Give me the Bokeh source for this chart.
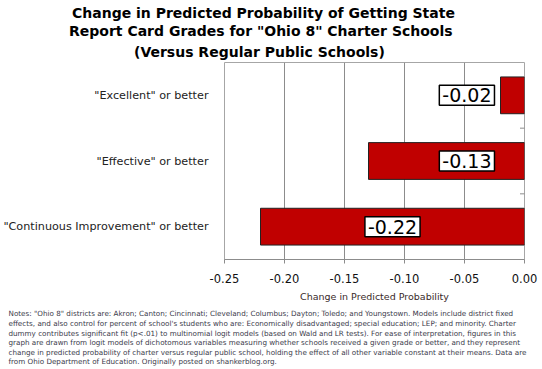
from bokeh.plotting import figure
from bokeh.models import Label, FixedTicker, Title
from bokeh.embed import file_html
from bokeh.resources import INLINE

# ---- data ----
categories = ['"Excellent" or better', '"Effective" or better', '"Continuous Improvement" or better']
values = [-0.02, -0.13, -0.22]
value_labels = ["-0.02", "-0.13", "-0.22"]
x_ticks = [-0.25, -0.20, -0.15, -0.10, -0.05, 0.00]
x_tick_labels = ["-0.25", "-0.20", "-0.15", "-0.10", "-0.05", "0.00"]
title_lines = [
    "Change in Predicted Probability of Getting State",
    'Report Card Grades for "Ohio 8" Charter Schools',
    "(Versus Regular Public Schools)",
]
note_lines = [
    'Notes: "Ohio 8" districts are: Akron; Canton; Cincinnati; Cleveland; Columbus; Dayton; Toledo; and Youngstown. Models include district fixed',
    "effects, and also control for percent of school's students who are: Economically disadvantaged; special education; LEP; and minority. Charter",
    "dummy contributes significant fit (p<.01) to multinomial logit models (based on Wald and LR tests). For ease of interpretation, figures in this",
    "graph are drawn from logit models of dichotomous variables measuring whether schools received a given grade or better, and they represent",
    "change in predicted probability of charter versus regular public school, holding the effect of all other variable constant at their means.  Data are",
    "from Ohio Department of Education. Originally posted on shankerblog.org.",
]
x_axis_title = "Change in Predicted Probability"

# layout constants
label_anchor = [-0.048, -0.048, -0.11]      # x-anchor of each value box
title_widths = [373, 379, 249]              # approx rendered width of each title line (px)
TITLE_CENTRE = 257                          # px from canvas left
NOTES_LEFT = 7

FONT = "DejaVu Sans"
n = len(categories)
ypos = [n - 1 - i for i in range(n)]  # top to bottom

W, H = 542, 369
LEFT, RIGHT, TOP, BOTTOM = 223, 18, 62, 106
p = figure(width=W, height=H, min_border_left=LEFT, min_border_right=RIGHT,
           min_border_top=TOP, min_border_bottom=BOTTOM,
           x_range=(x_ticks[0], x_ticks[-1]), y_range=(-0.5, n - 0.5),
           output_backend="svg", toolbar_location=None)
p.outline_line_color = "#a6a6a6"
p.background_fill_color = "white"
p.border_fill_color = "white"

p.xgrid.ticker = FixedTicker(ticks=x_ticks)
p.xgrid.grid_line_color = "#8c8c8c"
p.ygrid.grid_line_color = None

p.hbar(y=ypos, left=values, right=0, height=0.56, fill_color="#c00000", line_color="#222222", line_width=1)

# category separator ticks on the zero axis (half of a dash marker, clipped by the frame)
sep = [i + 0.5 for i in range(n - 1)]
p.scatter(x=[x_ticks[-1]] * len(sep), y=sep, marker="dash", size=9, line_color="#8c8c8c", line_width=1)

# x axis
xa = p.xaxis[0]
xa.ticker = FixedTicker(ticks=x_ticks)
xa.major_label_overrides = {t: l for t, l in zip(x_ticks, x_tick_labels)}
xa.axis_line_color = "#8c8c8c"
xa.major_tick_line_color = "#8c8c8c"
xa.major_tick_out = 4
xa.major_tick_in = 0
xa.minor_tick_line_color = None
xa.major_label_text_font = FONT
xa.major_label_text_font_size = "11.5px"
xa.major_label_text_color = "#111111"
xa.major_label_standoff = 10
xa.axis_label = x_axis_title
xa.axis_label_text_font = FONT
xa.axis_label_text_font_size = "9.5px"
xa.axis_label_text_font_style = "normal"
xa.axis_label_text_color = "#3a2a2a"
xa.axis_label_standoff = 5

# y axis (category labels on left)
ya = p.yaxis[0]
ya.ticker = FixedTicker(ticks=ypos)
ya.major_label_overrides = {y: c for y, c in zip(ypos, categories)}
ya.axis_line_color = None
ya.major_tick_line_color = None
ya.minor_tick_line_color = None
ya.major_label_text_font = FONT
ya.major_label_text_font_size = "11.2px"
ya.major_label_text_color = "#222222"
ya.major_label_standoff = 10

# value labels
for y, lab, xa_ in zip(ypos, value_labels, label_anchor):
    p.add_layout(Label(x=xa_, y=y, text=lab, text_align="center", text_baseline="middle",
                       text_font=FONT, text_font_size="19px", text_color="black",
                       background_fill_color="white", border_line_color="black",
                       border_line_width=1.5, padding=3))

# title lines (first added is nearest the plot)
for i, (t, w) in enumerate(reversed(list(zip(title_lines, title_widths)))):
    p.add_layout(Title(text=t, align="left", offset=TITLE_CENTRE - w / 2 - LEFT,
                       text_font=FONT, text_font_size="14px", text_font_style="bold",
                       text_color="black", text_line_height=1.05,
                       standoff=6 if i == 0 else 0), "above")

# notes
p.add_layout(Title(text="\n".join(note_lines), align="left", offset=NOTES_LEFT - LEFT,
                   text_font=FONT, text_font_size="7.2px", text_font_style="normal",
                   text_color="#3a3a4a", text_line_height=1.07, standoff=6), "below")

open("out.html", "w").write(file_html(p, INLINE))
